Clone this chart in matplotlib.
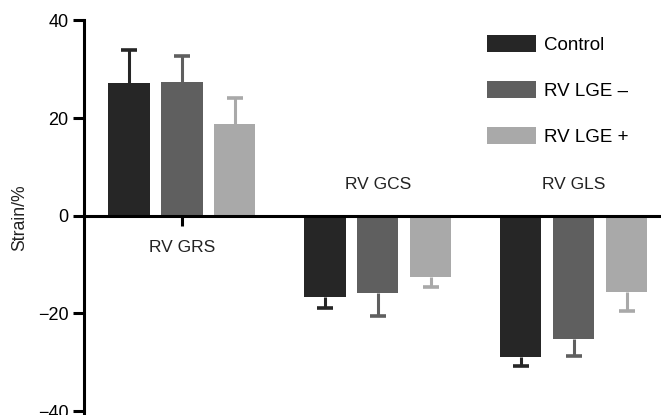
import numpy as np
import matplotlib
matplotlib.use("Agg")
import matplotlib.pyplot as plt

plt.rcParams['font.family'] = ['Liberation Sans', 'DejaVu Sans']

# data
categories = ["RV GRS", "RV GCS", "RV GLS"]
groups = ["Control", "RV LGE \u2013", "RV LGE +"]
means = {
    "Control": [27.3, -16.6, -28.9],
    "RV LGE \u2013": [27.5, -15.8, -25.2],
    "RV LGE +": [18.7, -12.5, -15.6],
}
sds = {
    "Control": [6.6, 2.3, 1.8],
    "RV LGE \u2013": [5.2, 4.8, 3.5],
    "RV LGE +": [5.5, 2.1, 3.9],
}
colors = ["#262626", "#5f5f5f", "#a9a9a9"]
yticks = [-40, -20, 0, 20, 40]

fig = plt.figure(figsize=(6.61, 4.15), dpi=100)
ax = fig.add_axes([84 / 661, 0, 1 - 84 / 661, 394.5 / 415])

x = np.arange(len(categories))
width = 0.21
step = 0.27
for i, g in enumerate(groups):
    m = np.array(means[g])
    s = np.array(sds[g])
    pos = x + (i - 1) * step
    ends = m + np.sign(m) * s
    ax.bar(pos, m, width, color=colors[i], label=g, zorder=2)
    # one-sided error bar: stem from the bar end outwards, plus a cap
    ax.vlines(pos, m, ends, color=colors[i], linewidth=2.2, zorder=1)
    ax.plot(pos, ends, linestyle="none", marker="_", markersize=12,
            markeredgewidth=2.6, color=colors[i], zorder=1)

ax.set_xlim(-0.5, 2.445)
ax.set_ylim(-40.8, 40)
ax.set_yticks(yticks)
ax.set_yticklabels([str(t).replace("-", "\u2212") for t in yticks])
ax.set_xticks(x)
ax.set_xticklabels([])

ax.spines["top"].set_visible(False)
ax.spines["right"].set_visible(False)
ax.spines["bottom"].set_position(("data", 0))
ax.spines["bottom"].set_zorder(3)
for sp in ("left", "bottom"):
    ax.spines[sp].set_linewidth(2.2)
ax.tick_params(axis="y", length=8, width=2.2, labelsize=13, pad=3, colors="black")
ax.tick_params(axis="x", length=7, width=2.2, direction="out")

for xi, cat in zip(x, categories):
    below = means["Control"][xi] > 0
    off = -32 if below else 31
    ax.annotate(cat, (xi, 0), xytext=(0, off), textcoords="offset pixels",
                ha="center", va="center", fontsize=12.5, color="#222222")

ax.set_ylabel("Strain/%", fontsize=12.7, color="#222222", labelpad=7)

ax.legend(loc="upper left", bbox_to_anchor=(487 / 661, 1 - 35 / 415),
          bbox_transform=fig.transFigure, frameon=False, fontsize=13.5,
          handlelength=2.6, handleheight=1.0, handletextpad=0.45,
          labelspacing=1.45, borderpad=0, borderaxespad=0)

fig.savefig("out.png", dpi=100)
